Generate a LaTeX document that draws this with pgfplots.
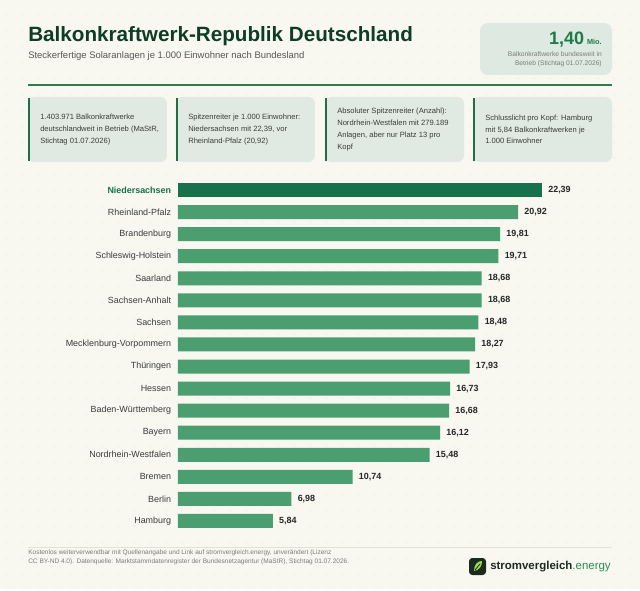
\documentclass[border=0pt]{standalone}
\usepackage{fontspec}
\setmainfont{Liberation Sans}
\usepackage{pgfplots}
\pgfplotsset{compat=1.18}
\definecolor{bg}{HTML}{F8F7F0}
\definecolor{dotc}{HTML}{E4E4DA}
\definecolor{titlec}{HTML}{0E3D23}
\definecolor{subc}{HTML}{555A55}
\definecolor{divc}{HTML}{2A7D4F}
\definecolor{boxc}{HTML}{DDE9E1}
\definecolor{numc}{HTML}{1E7A4A}
\definecolor{cardc}{HTML}{E0EAE3}
\definecolor{cardl}{HTML}{1F6E44}
\definecolor{cardtext}{HTML}{3A3D3A}
\definecolor{barc}{HTML}{4A9E70}
\definecolor{bartop}{HTML}{17714A}
\definecolor{labc}{HTML}{3A3D3A}
\definecolor{valc}{HTML}{262826}
\definecolor{footc}{HTML}{7A7D78}
\definecolor{footl}{HTML}{E2E2D8}
\definecolor{logod}{HTML}{1C2A20}
\definecolor{logol}{HTML}{9BE04A}
\definecolor{energy}{HTML}{2E8B57}
\begin{document}
\begin{tikzpicture}
\begin{scope}[x=0.75pt,y=-0.75pt,shift={(-133.5pt,399pt)}]
\fill[bg] (0,0) rectangle (640,589);
\foreach \i in {0,...,39}{\foreach \j in {0,...,36}{\fill[dotc] (\i*16+6,\j*16+14) circle[radius=0.45pt];}}
% header
\node[anchor=base west, inner sep=0, text=titlec, font=\fontsize{15.5}{18}\selectfont\bfseries] at (28,42) {Balkonkraftwerk-Republik Deutschland};
\node[anchor=base west, inner sep=0, text=subc, font=\fontsize{7.1}{9}\selectfont] at (28,58) {Steckerfertige Solaranlagen je 1.000 Einwohner nach Bundesland};
\draw[divc, line width=1.2pt] (28,85) -- (612,85);
% right box
\fill[boxc, rounded corners=6pt] (480,23) rectangle (612,75);
\node[anchor=base east, inner sep=0, text=numc, font=\fontsize{13.5}{15}\selectfont\bfseries] at (602,45) {1,40\,{\fontsize{5.5}{6}\selectfont Mio.}};
\node[anchor=north east, align=right, inner sep=0, text=footc, font=\fontsize{5}{6.75}\selectfont] at (602,51) {Balkonkraftwerke bundesweit in\\Betrieb (Stichtag 01.07.2026)};
% cards
\foreach \xa/\xb/\txt in {28/167/{1.403.971 Balkonkraftwerke\\deutschlandweit in Betrieb (MaStR,\\Stichtag 01.07.2026)},
  176/315/{Spitzenreiter je 1.000 Einwohner:\\Niedersachsen mit 22,39, vor\\Rheinland-Pfalz (20,92)},
  325/464/{Absoluter Spitzenreiter (Anzahl):\\Nordrhein-Westfalen mit 279.189\\Anlagen, aber nur Platz 13 pro\\Kopf},
  473/612/{Schlusslicht pro Kopf: Hamburg\\mit 5,84 Balkonkraftwerken je\\1.000 Einwohner}}{
  \fill[cardc, rounded corners=5pt] (\xa,97) rectangle (\xb,162);
  \draw[cardl, line width=1.4pt] (\xa+0.9,98.5) -- (\xa+0.9,160.5);
  \node[anchor=west, align=left, inner sep=0, text=cardtext, font=\fontsize{5.7}{8.8}\selectfont] at (\xa+12,129.5) {\txt};
}
% footer
\draw[footl, line width=0.6pt] (28,547) -- (612,547);
\node[anchor=base west, align=left, inner sep=0, text=footc, font=\fontsize{4.9}{6.75}\selectfont] at (28,563) {Kostenlos weiterverwendbar mit Quellenangabe und Link auf stromvergleich.energy, unverändert (Lizenz\\CC BY-ND 4.0). Datenquelle: Marktstammdatenregister der Bundesnetzagentur (MaStR), Stichtag 01.07.2026.};
\fill[logod, rounded corners=2.5pt] (469,558) rectangle (486,575);
\fill[logol] (474,571) .. controls (474,564) and (478,561) .. (482,561) .. controls (482,567) and (479,570) .. (474,571) -- cycle;
\draw[logod, line width=0.6pt] (475,570) -- (480,564);
\node[anchor=west, inner sep=0, text=logod, font=\fontsize{8.6}{11}\selectfont\bfseries] at (490,566.5) {stromvergleich\textcolor{energy}{\mdseries .energy}};
\end{scope}
% chart
\begin{axis}[at={(0pt,0pt)}, anchor=south west, scale only axis,
  width=315pt, height=264.75pt,
  xmin=0, xmax=25.83, ymin=-0.5, ymax=15.5, y dir=reverse,
  xbar, bar width=10.5pt, bar shift=0pt,
  axis line style={draw=none}, xtick=\empty,
  ytick={0,...,15}, major tick length=0pt,
  yticklabels={{\textbf{\textcolor{bartop}{Niedersachsen}}},Rheinland-Pfalz,Brandenburg,Schleswig-Holstein,Saarland,Sachsen-Anhalt,Sachsen,Mecklenburg-Vorpommern,Thüringen,Hessen,Baden-Württemberg,Bayern,Nordrhein-Westfalen,Bremen,Berlin,Hamburg},
  yticklabel style={font=\fontsize{6.7}{8}\selectfont, text=labc, inner sep=0pt, xshift=-5pt},
  nodes near coords,
  nodes near coords style={font=\fontsize{6.7}{8}\selectfont\bfseries, text=valc, anchor=west, inner sep=0pt, xshift=4.5pt},
  /pgf/number format/.cd, use comma, fixed, fixed zerofill, precision=2, assume math mode=true,
  /pgfplots/.cd, clip=false]
\addplot[fill=bartop, draw=none] coordinates {(22.39,0)};
\addplot[fill=barc, draw=none] coordinates {
(20.92,1) (19.81,2) (19.71,3) (18.68,4) (18.68,5) (18.48,6) (18.27,7) (17.93,8)
(16.73,9) (16.68,10) (16.12,11) (15.48,12) (10.74,13) (6.98,14) (5.84,15)};
\end{axis}
\end{tikzpicture}
\end{document}
